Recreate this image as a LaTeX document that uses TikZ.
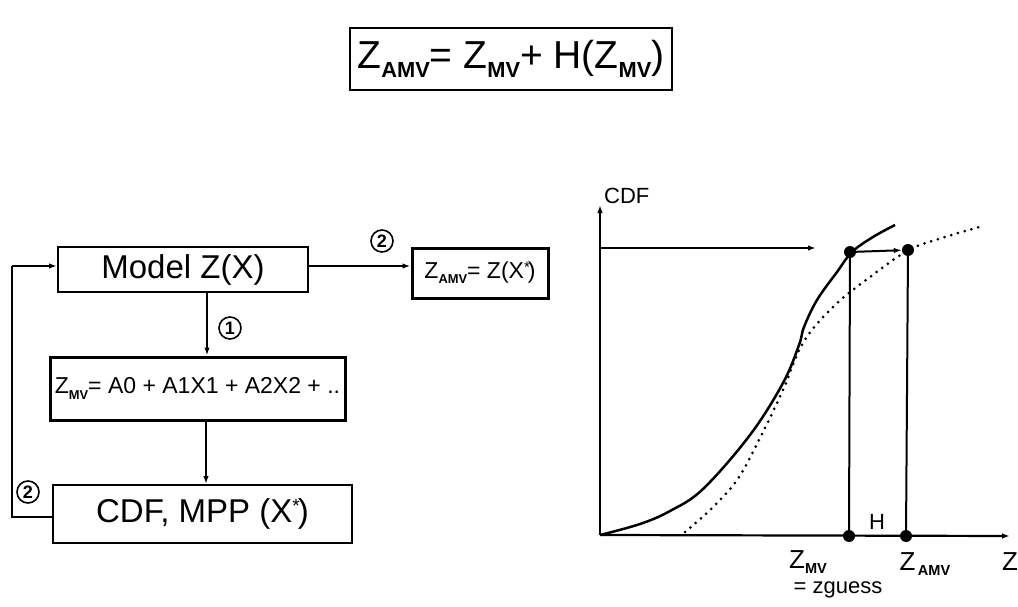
\documentclass[tikz,border=0pt]{standalone}
\usepackage{fontspec}
\usepackage{graphicx}
\setmainfont{Liberation Sans}
\usetikzlibrary{arrows.meta}
\newcommand\lsub[1]{\raisebox{-0.42ex}{\scalebox{0.56}{\bfseries #1}}}
\newcommand\fs[1]{\fontsize{#1}{#1}\selectfont}
\tikzset{
  box/.style={draw, line width=2pt, inner sep=0pt},
  thickbox/.style={draw, line width=3pt, inner sep=0pt},
  arr/.style={line width=1.8pt, -{Latex[length=8pt,width=5.5pt]}},
  ln/.style={line width=1.8pt},
  num/.style={draw, circle, line width=1.6pt, inner sep=0pt, minimum size=22pt, font=\fs{18}\bfseries},
  dot/.style={circle, fill, inner sep=0pt, minimum size=12pt},
  axis/.style={line width=2.2pt},
}
\begin{document}
\begin{tikzpicture}[x=1pt,y=-1pt]
\useasboundingbox (0,0) rectangle (1018,607);
% top formula
\node[box, minimum width=322pt, minimum height=62pt] (top) at (511,59)
  {\fs{39}Z\lsub{AMV}= Z\lsub{MV}+ H(Z\lsub{MV})};
% flowchart
\node[box, minimum width=250pt, minimum height=45pt] (model) at (183,269.5) {\fs{33}Model Z(X)};
\node[thickbox, minimum width=136pt, minimum height=50pt] (zamv) at (480,273) {\fs{23}Z\lsub{AMV}= Z(X\rlap{\raisebox{0.5ex}{\fs{15}*}}\,)};
\node[thickbox, minimum width=295pt, minimum height=63pt] (zmv) at (197.5,388.5) {\fs{23}Z\lsub{MV}= A0 + A1X1 + A2X2 + ..};
\node[box, minimum width=299pt, minimum height=58pt] (cdf) at (202.5,514) {\fs{33}CDF, MPP (X\rlap{\raisebox{0.55ex}{\fs{19}*}}\,)};
\coordinate (me) at (308,266);
\draw[arr] (model.east |- me) -- (zamv.west |- me);
\node[num] (n2a) at (382,241) {2};
\draw[arr] (model.south -| 207,0) -- (zmv.north -| 207,0);
\node[num] (n1) at (230,328) {1};
\draw[arr] (zmv.south -| 206,0) -- (cdf.north -| 206,0);
\coordinate (lb) at (12,517);
\coordinate (lt) at (12,266);
\draw[ln] (cdf.west |- lb) -- (lb) -- (lt);
\draw[arr] (lt) -- (model.west |- lt);
\node[num] (n2b) at (28,492) {2};
% graph
\coordinate (O) at (600,535);
\coordinate (ytop) at (600,205);
\coordinate (xend) at (1010,536);
\draw[axis, -{Latex[length=8pt,width=5.5pt]}] (O) -- (ytop);
\draw[axis, -{Latex[length=8pt,width=5.5pt]}] (O) -- (xend);
\node[font=\fs{22}, anchor=south west, inner sep=0pt] (cdflab) at (604,204) {CDF};
\node[dot] (d1) at (850,252) {};
\node[dot] (d2) at (908,250) {};
\node[dot] (a1) at (849,536) {};
\node[dot] (a2) at (906,536) {};
\coordinate (hs) at (600,248);
\coordinate (he) at (816,248);
\draw[ln, line width=2pt, -{Latex[length=8pt,width=5.5pt]}] (hs) -- (he);
\draw[ln, line width=2pt, -{Latex[length=8pt,width=5.5pt]}] (d1) -- (d2);
\draw[ln, line width=2pt] (d1) -- (a1);
\draw[ln, line width=2pt] (d2) -- (a2);
\draw[line width=2.5pt] plot[smooth, tension=0.6] coordinates {(600,535) (640,524) (670,511) (703,489) (750,435) (783,383) (799,345) (804,327) (817,300) (837,272) (852,252) (873,237) (895,225)};
\draw[line width=3pt, line cap=round, dash pattern=on 0pt off 7pt] plot[smooth, tension=0.6] coordinates {(685,532) (710,510) (737,480) (760,438) (783,390) (803,343) (833,307) (870,277) (909,250) (945,237) (983,226)};
\node[font=\fs{22}] (H) at (877,522) {H};
\node[font=\fs{26}] (zmvlab) at (808,562) {Z\lsub{MV}};
\node[font=\fs{22}] (zg) at (838,590) {= zguess};
\node[font=\fs{26}] (zamvlab) at (925,564) {Z\lsub{\,AMV}};
\node[font=\fs{26}] (zlab) at (1010,562) {Z};
\end{tikzpicture}
\end{document}
